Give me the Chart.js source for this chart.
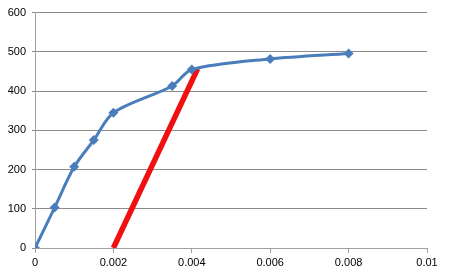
<!DOCTYPE html>
<html><head><meta charset="utf-8">
<script src="https://cdn.jsdelivr.net/npm/chart.js@4"></script>
<style>html,body{margin:0;padding:0;background:#fff;}#wrap{width:449px;height:274px;}</style>
</head><body><div id="wrap"><canvas id="c" width="449" height="274"></canvas></div>
<script>
const strainX = [0, 0.0005, 0.001, 0.0015, 0.002, 0.0035, 0.004, 0.006, 0.008];
const stressY = [0, 103, 207, 275, 345, 413, 455, 482, 496];
const offsetX = [0.002, 0.00415];
const offsetY = [0, 457];
const xTicks = [0, 0.002, 0.004, 0.006, 0.008, 0.01];
const yTicks = [0, 100, 200, 300, 400, 500, 600];

const font = {family: "'Liberation Sans', Arial, sans-serif", size: 11};
new Chart(document.getElementById('c'), {
  type: 'scatter',
  data: {
    datasets: [
      {
        data: offsetX.map((x, i) => ({x, y: offsetY[i]})),
        showLine: true, borderColor: '#F01010', borderWidth: 5.5,
        pointRadius: 0, tension: 0, order: 2
      },
      {
        data: strainX.map((x, i) => ({x, y: stressY[i]})),
        showLine: true, borderColor: '#4A7EBB', backgroundColor: '#4A7EBB',
        borderWidth: 3, tension: 0.3, pointStyle: 'rectRot', pointRadius: 5,
        pointBorderWidth: 0, order: 1
      }
    ]
  },
  options: {
    responsive: false, animation: false,
    layout: {padding: {top: 9, right: 22, left: 0, bottom: 0}},
    plugins: {legend: {display: false}, tooltip: {enabled: false}},
    scales: {
      x: {
        type: 'linear', min: 0, max: 0.01,
        afterBuildTicks: s => { s.ticks = xTicks.map(v => ({value: v})); },
        afterFit: s => { s.height = 26; },
        grid: {drawOnChartArea: false, drawTicks: true, tickLength: 5, color: '#A0A0A0'},
        border: {color: '#A0A0A0', width: 1},
        ticks: {color: '#000', font, padding: 3, maxRotation: 0,
          callback: v => String(v)}
      },
      y: {
        min: 0, max: 600,
        afterBuildTicks: s => { s.ticks = yTicks.map(v => ({value: v})); },
        afterFit: s => { s.width = 35; },
        grid: {color: '#8C8C8C', drawTicks: true, tickLength: 3},
        border: {color: '#A0A0A0', width: 1},
        ticks: {color: '#000', font, padding: 6}
      }
    }
  }
});
</script></body></html>
